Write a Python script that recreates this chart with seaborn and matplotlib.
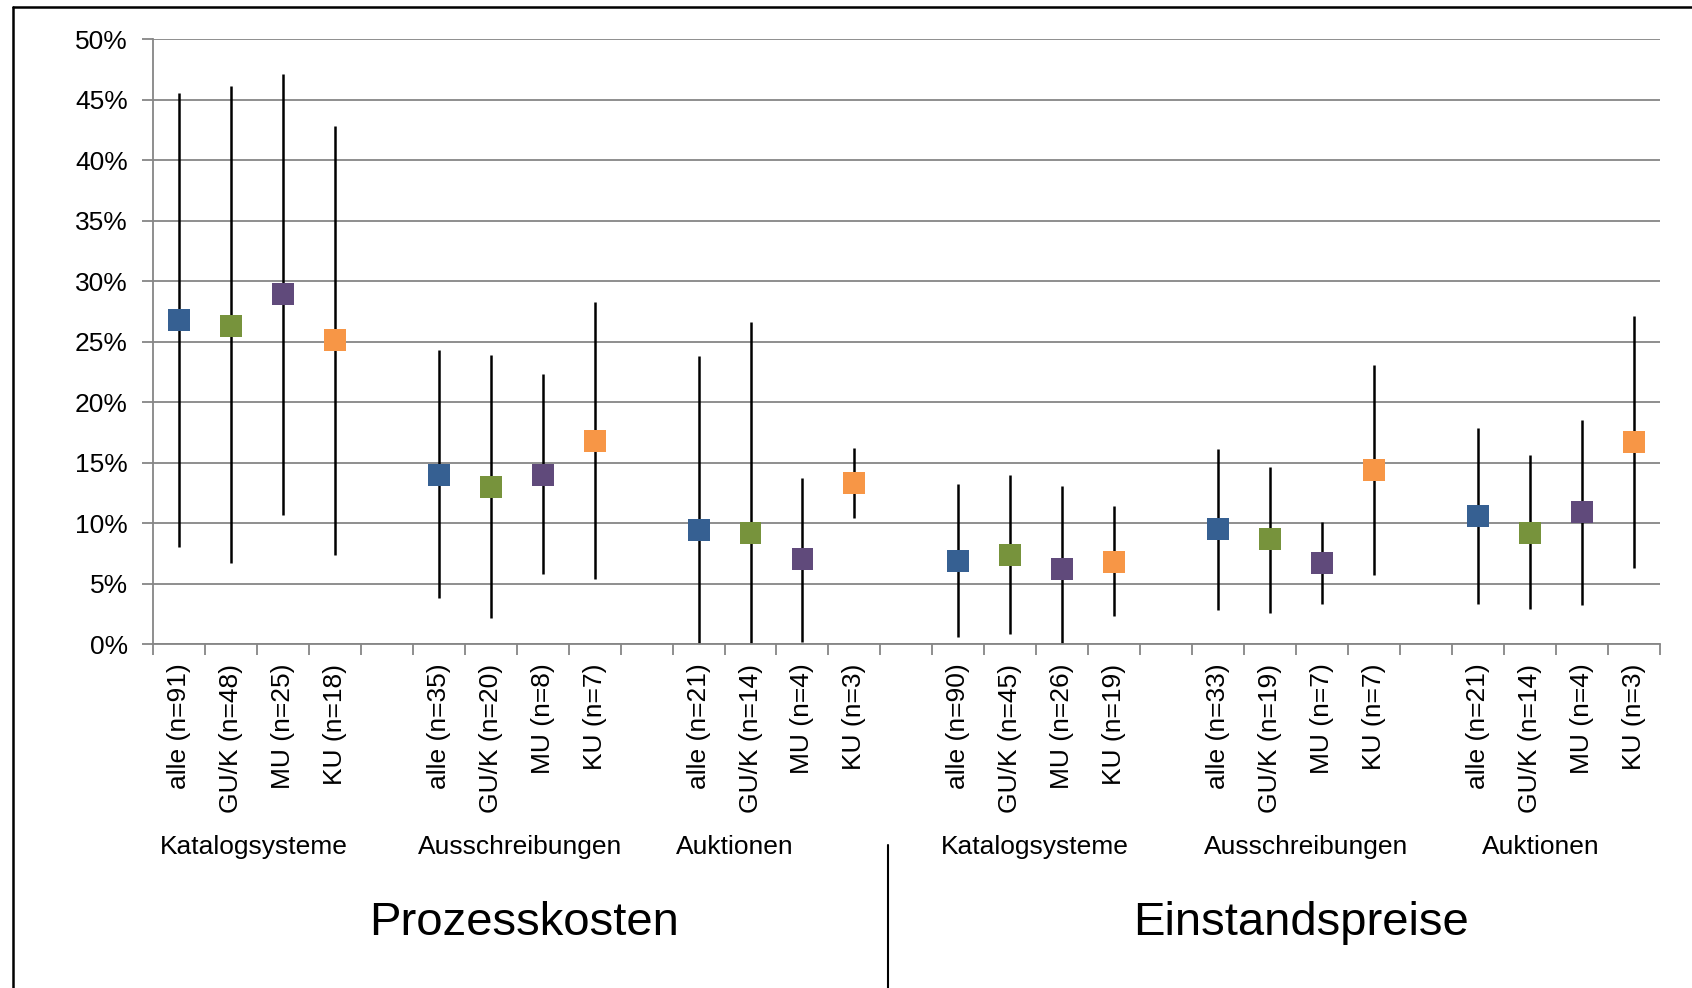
import numpy as np
import pandas as pd
import matplotlib
matplotlib.use("Agg")
import matplotlib.pyplot as plt
import matplotlib.transforms as mtransforms
from matplotlib.lines import Line2D
import seaborn as sns

segments = ["alle", "GU/K", "MU", "KU"]
groups = ["Katalogsysteme", "Ausschreibungen", "Auktionen",
          "Katalogsysteme", "Ausschreibungen", "Auktionen"]
sections = ["Prozesskosten", "Einstandspreise"]
n_values = [91, 48, 25, 18, 35, 20, 8, 7, 21, 14, 4, 3,
            90, 45, 26, 19, 33, 19, 7, 7, 21, 14, 4, 3]
means = [26.8, 26.3, 28.9, 25.1, 14.0, 13.0, 14.0, 16.8, 9.4, 9.2, 7.0, 13.3,
         6.9, 7.4, 6.2, 6.8, 9.5, 8.7, 6.7, 14.4, 10.6, 9.2, 10.9, 16.7]
upper = [45.5, 46.1, 47.1, 42.8, 24.3, 23.9, 22.3, 28.3, 23.8, 26.6, 13.7, 16.2,
         13.2, 14.0, 13.1, 11.4, 16.1, 14.6, 10.1, 23.1, 17.9, 15.6, 18.5, 27.1]
lower = [8.0, 6.7, 10.7, 7.4, 3.8, 2.2, 5.8, 5.4, 0.0, 0.0, 0.2, 10.4,
         0.6, 0.8, 0.0, 2.3, 2.8, 2.6, 3.3, 5.7, 3.3, 2.9, 3.2, 6.3]
colors = ["#366092", "#77933C", "#604A7B", "#F79646"]

rows = []
for g in range(len(groups)):
    for j, seg in enumerate(segments):
        k = g * 4 + j
        rows.append({"pos": g * 5 + j, "seg": seg,
                     "label": f"{seg} (n={n_values[k]})",
                     "mean": means[k], "lo": lower[k], "hi": upper[k]})
df = pd.DataFrame(rows)

sns.set_style("white")
plt.rcParams["font.family"] = ["Liberation Sans", "DejaVu Sans"]
plt.rcParams["text.color"] = "black"
plt.rcParams["xtick.labelcolor"] = "black"
plt.rcParams["ytick.labelcolor"] = "black"

fig = plt.figure(figsize=(16.92, 9.88), dpi=100)
ax = fig.add_axes([0.0904, 0.348, 0.8906, 0.6125])

ax.vlines(df["pos"], df["lo"], df["hi"], color="black", lw=1.8, zorder=2)
sns.scatterplot(data=df, x="pos", y="mean", hue="seg", palette=colors,
                marker="s", s=250, linewidth=0, legend=False, zorder=3, ax=ax)

n_slots = len(groups) * 5 - 1
ax.set_xlim(-0.5, n_slots - 0.5)
ax.set_ylim(0, 50)
ax.set_yticks(range(0, 51, 5))
ax.set_yticklabels([f"{v}%" for v in range(0, 51, 5)], fontsize=19)
ax.yaxis.grid(True, color="#868686", lw=1.3)
ax.set_axisbelow(True)

ax.set_xticks(df["pos"])
ax.set_xticklabels(df["label"], rotation=90, fontsize=19)
ax.set_xticks(np.arange(-0.5, n_slots, 1.0), minor=True)
ax.tick_params(axis="x", which="major", length=0, pad=14)
ax.tick_params(axis="x", which="minor", length=8, width=1.3, color="#868686",
               direction="out", bottom=True)
ax.tick_params(axis="y", length=8, width=1.3, color="#868686", direction="out",
               left=True, pad=10)
ax.set_xlabel("")
ax.set_ylabel("")
for side in ["top", "right"]:
    ax.spines[side].set_visible(False)
for side in ["left", "bottom"]:
    ax.spines[side].set_color("#868686")
    ax.spines[side].set_linewidth(1.3)

# Gruppen- und Bereichsbeschriftung
trans = mtransforms.blended_transform_factory(ax.transData, fig.transFigure)
group_x = [1.45, 6.56, 10.7, 16.47, 21.7, 26.2]
for gx, name in zip(group_x, groups):
    ax.text(gx, 0.143, name, transform=trans, ha="center", va="center",
            fontsize=19)
for sx, name in zip([6.64, 21.6], sections):
    ax.text(sx, 0.066, name, transform=trans, ha="center", va="center",
            fontsize=34)

# Rahmen und Trennlinie
fig.add_artist(Line2D([0.0077, 0.0077], [0, 0.9934], color="black", lw=1.8,
                      transform=fig.transFigure))
fig.add_artist(Line2D([0.0077, 1], [0.9934, 0.9934], color="black", lw=1.8,
                      transform=fig.transFigure))
fig.add_artist(Line2D([0.525, 0.525], [0, 0.145], color="black", lw=1.5,
                      transform=fig.transFigure))

fig.savefig("out.png", dpi=100)
